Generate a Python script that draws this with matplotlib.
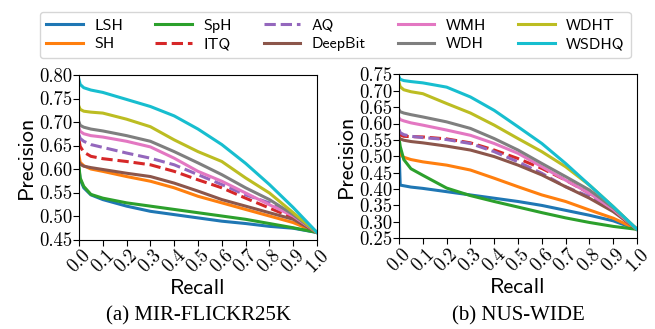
import matplotlib

matplotlib.use("Agg")
import matplotlib.pyplot as plt
import numpy as np

plt.rcParams["font.family"] = "cmr10"
plt.rcParams["axes.formatter.use_mathtext"] = True

methods = ["LSH", "SH", "SpH", "ITQ", "AQ", "DeepBit", "WMH", "WDH", "WDHT", "WSDHQ"]
colors = ["C0", "C1", "C2", "C3", "C4", "C5", "C6", "C7", "C8", "C9"]
styles = ["-", "-", "-", "--", "--", "-", "-", "-", "-", "-"]

recall = [0, 0.005, 0.02, 0.05, 0.1, 0.2, 0.3, 0.4, 0.5, 0.6, 0.7, 0.8, 0.9, 1.0]

# MIR-FLICKR25K precision at each recall point
mir = {
    "LSH": [0.600, 0.578, 0.560, 0.545, 0.535, 0.521, 0.510, 0.503, 0.496, 0.489, 0.484, 0.478, 0.474, 0.465],
    "SH": [0.628, 0.614, 0.607, 0.600, 0.595, 0.584, 0.574, 0.560, 0.542, 0.528, 0.514, 0.500, 0.486, 0.465],
    "SpH": [0.605, 0.581, 0.563, 0.546, 0.538, 0.528, 0.521, 0.514, 0.507, 0.500, 0.493, 0.484, 0.475, 0.465],
    "ITQ": [0.662, 0.648, 0.636, 0.627, 0.622, 0.616, 0.609, 0.595, 0.577, 0.560, 0.538, 0.517, 0.496, 0.465],
    "AQ": [0.673, 0.665, 0.659, 0.652, 0.646, 0.634, 0.623, 0.609, 0.588, 0.567, 0.545, 0.528, 0.503, 0.465],
    "DeepBit": [0.616, 0.610, 0.606, 0.603, 0.599, 0.591, 0.584, 0.570, 0.553, 0.535, 0.521, 0.507, 0.493, 0.465],
    "WMH": [0.688, 0.680, 0.675, 0.671, 0.668, 0.659, 0.647, 0.623, 0.595, 0.574, 0.549, 0.524, 0.500, 0.465],
    "WDH": [0.700, 0.693, 0.689, 0.685, 0.681, 0.671, 0.659, 0.637, 0.613, 0.588, 0.560, 0.535, 0.503, 0.465],
    "WDHT": [0.733, 0.727, 0.723, 0.721, 0.719, 0.706, 0.690, 0.662, 0.637, 0.616, 0.581, 0.549, 0.507, 0.465],
    "WSDHQ": [0.790, 0.780, 0.773, 0.768, 0.763, 0.748, 0.733, 0.713, 0.685, 0.652, 0.612, 0.567, 0.518, 0.465],
}

# NUS-WIDE precision at each recall point
nus = {
    "LSH": [0.520, 0.412, 0.410, 0.406, 0.402, 0.392, 0.382, 0.372, 0.362, 0.350, 0.335, 0.320, 0.303, 0.277],
    "SH": [0.520, 0.505, 0.497, 0.490, 0.483, 0.473, 0.458, 0.433, 0.407, 0.382, 0.362, 0.336, 0.311, 0.277],
    "SpH": [0.555, 0.530, 0.490, 0.462, 0.442, 0.403, 0.380, 0.362, 0.345, 0.328, 0.312, 0.298, 0.286, 0.277],
    "ITQ": [0.572, 0.565, 0.561, 0.560, 0.559, 0.553, 0.541, 0.519, 0.493, 0.463, 0.427, 0.387, 0.340, 0.277],
    "AQ": [0.582, 0.572, 0.566, 0.561, 0.557, 0.551, 0.539, 0.514, 0.483, 0.448, 0.407, 0.377, 0.334, 0.277],
    "DeepBit": [0.557, 0.553, 0.549, 0.545, 0.541, 0.531, 0.519, 0.499, 0.473, 0.443, 0.407, 0.372, 0.331, 0.277],
    "WMH": [0.617, 0.612, 0.608, 0.602, 0.595, 0.580, 0.564, 0.539, 0.509, 0.468, 0.427, 0.387, 0.338, 0.277],
    "WDH": [0.642, 0.636, 0.632, 0.627, 0.620, 0.605, 0.585, 0.554, 0.519, 0.478, 0.438, 0.397, 0.343, 0.277],
    "WDHT": [0.725, 0.712, 0.703, 0.697, 0.691, 0.661, 0.632, 0.595, 0.554, 0.514, 0.468, 0.412, 0.346, 0.277],
    "WSDHQ": [0.742, 0.735, 0.731, 0.728, 0.724, 0.711, 0.681, 0.640, 0.590, 0.539, 0.478, 0.412, 0.346, 0.277],
}

panels = [
    (mir, (0.45, 0.80), "(a) MIR-FLICKR25K"),
    (nus, (0.25, 0.75), "(b) NUS-WIDE"),
]

fig = plt.figure(figsize=(6.55, 3.29), dpi=100)
axes = [
    fig.add_axes([0.1206, 0.272, 0.3634, 0.500]),
    fig.add_axes([0.6092, 0.276, 0.3634, 0.498]),
]

xticks = np.round(np.arange(0, 1.01, 0.1), 1)

for ax, (data, ylim, caption) in zip(axes, panels):
    for name, color, style in zip(methods, colors, styles):
        ax.plot(recall, data[name], color=color, linestyle=style, linewidth=2.2, label=name)
    ax.set_xlim(0, 1)
    ax.set_ylim(*ylim)
    ax.set_xticks(xticks)
    ax.set_xticklabels([f"{v:.1f}" for v in xticks], rotation=45, fontsize=13.5)
    yticks = np.round(np.arange(ylim[0], ylim[1] + 0.001, 0.05), 2)
    ax.set_yticks(yticks)
    ax.set_yticklabels([f"{v:.2f}" for v in yticks], fontsize=13.5)
    ax.tick_params(length=4, pad=1)
    ax.set_xlabel("Recall", fontfamily="cmss10", fontsize=16, labelpad=2)
    ax.set_ylabel("Precision", fontfamily="cmss10", fontsize=16, labelpad=2)
    pos = ax.get_position()
    fig.text((pos.x0 + pos.x1) / 2, 0.04, caption, ha="center", va="center",
             fontfamily="Liberation Serif", fontsize=15)

handles, labels = axes[0].get_legend_handles_labels()
fig.legend(
    handles,
    labels,
    loc="upper center",
    bbox_to_anchor=(0.512, 0.988),
    ncol=5,
    prop={"family": "cmss10", "size": 11.5},
    handlelength=2.3,
    handletextpad=0.7,
    columnspacing=2.0,
    borderpad=0.4,
    labelspacing=0.3,
)

fig.savefig("out.png", dpi=100)
plt.close(fig)
